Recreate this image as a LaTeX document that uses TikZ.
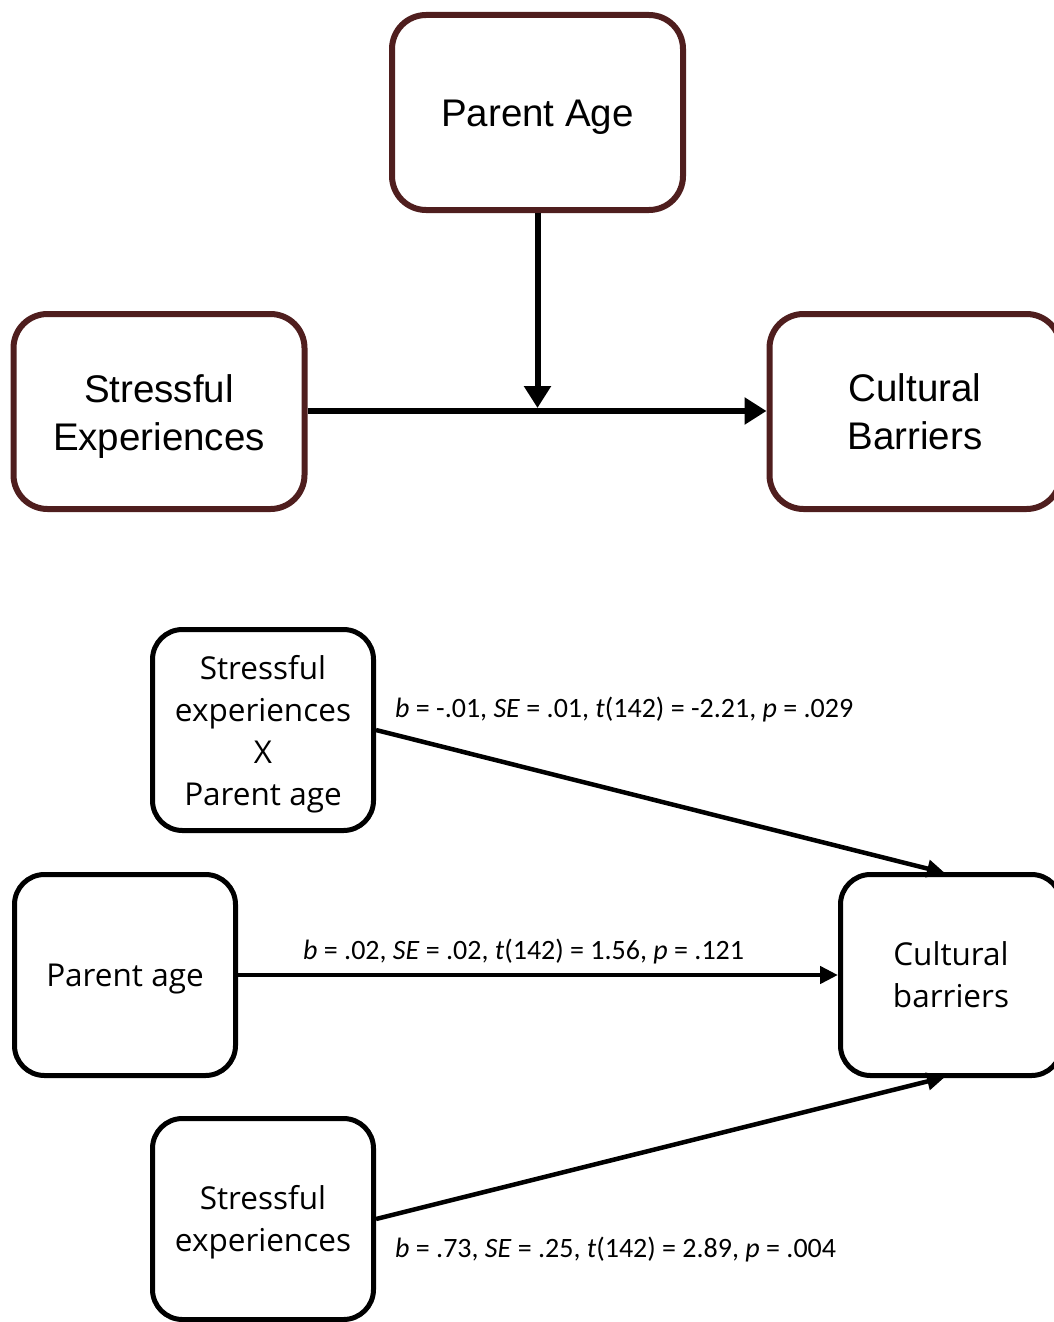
\documentclass[tikz,border=0pt]{standalone}
\usepackage{fontspec}
\setmainfont{Liberation Sans}
\newfontfamily\bodyfont{Open Sans}
\newfontfamily\labfont{Carlito}
\usetikzlibrary{arrows.meta}
\definecolor{boxbrown}{HTML}{4F1E1E}
\begin{document}
\begin{tikzpicture}[x=1pt,y=-1pt,
  topbox/.style={draw=boxbrown, line width=6pt, rounded corners=34pt, fill=white,
    minimum width=291pt, minimum height=195pt, inner sep=0pt},
  toptext/.style={align=center, inner sep=0pt, font=\fontsize{38.5}{47.5}\selectfont},
  botbox/.style={draw=black, line width=5pt, rounded corners=30pt, fill=white,
    minimum width=221pt, minimum height=201pt, inner sep=0pt},
  bottext/.style={align=center, inner sep=0pt, font=\bodyfont\fontsize{31.5}{42}\selectfont},
  bigarrow/.style={line width=6pt, -{Triangle[length=22pt,width=26pt]}},
  smallarrow/.style={line width=4.5pt, -{Triangle[length=18pt,width=17pt]}},
  lab/.style={anchor=west, inner sep=0pt, font=\labfont\fontsize{28}{32}\selectfont}
]
\useasboundingbox (0,0) rectangle (1054,1322);
% top model
\node[topbox] (PA) at (537.5,112.5) {};
\node[topbox] (SE) at (159,411.5) {};
\node[topbox] (CB) at (915,411.5) {};
\node[toptext] (PAt) at ([yshift=-5pt]PA.center) {Parent Age};
\node[toptext] (SEt) at ([yshift=-5pt]SE.center) {Stressful\\Experiences};
\node[toptext] (CBt) at (CB.center) {Cultural\\Barriers};
\coordinate (J) at (537.5,408);
\draw[bigarrow] (SE.east |- 0,411) -- (CB.west |- 0,411);
\draw[bigarrow] (PA.south) -- (J);
% bottom model
\node[botbox] (SXP) at (263,730) {};
\node[botbox] (PB) at (125,975) {};
\node[botbox] (SB) at (263,1219) {};
\node[botbox] (CBB) at (951,975) {};
\node[bottext] (SXPt) at ([yshift=-4pt]SXP.center) {Stressful\\experiences\\X\\Parent age};
\node[bottext] (PBt) at ([yshift=-4pt]PB.center) {Parent age};
\node[bottext] (SBt) at ([yshift=-3pt]SB.center) {Stressful\\experiences};
\node[bottext] (CBBt) at (CBB.center) {Cultural\\barriers};
\coordinate (T1) at (945,873);
\coordinate (T3) at (945,1077);
\draw[smallarrow] (SXP.east) -- (T1);
\draw[smallarrow] (PB.east) -- (CBB.west);
\draw[smallarrow] (SB.east) -- (T3);
\node[lab] (L1) at (395,710) {\textit{b} = -.01, \textit{SE} = .01, \textit{t}(142) = -2.21, \textit{p} = .029};
\node[lab] (L2) at (303,952) {\textit{b} = .02, \textit{SE} = .02, \textit{t}(142) = 1.56, \textit{p} = .121};
\node[lab] (L3) at (395,1249) {\textit{b} = .73, \textit{SE} = .25, \textit{t}(142) = 2.89, \textit{p} = .004};
\end{tikzpicture}
\end{document}
